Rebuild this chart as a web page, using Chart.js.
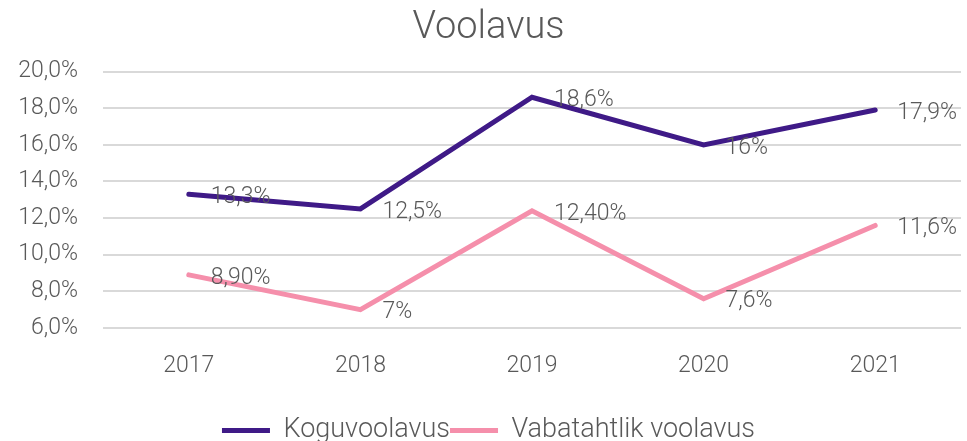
<!DOCTYPE html>
<html>
<head>
<meta charset="utf-8">
<script src="https://cdn.jsdelivr.net/npm/chart.js@4"></script>
<style>
  html, body { margin: 0; padding: 0; background: #fff; }
  #wrap { width: 967px; height: 441px; position: relative; }
</style>
</head>
<body>
<div id="wrap"><canvas id="chart"></canvas></div>
<script>
const years = ["2017", "2018", "2019", "2020", "2021"];
const koguvoolavus = [13.3, 12.5, 18.6, 16.0, 17.9];
const vabatahtlik = [8.9, 7.0, 12.4, 7.6, 11.6];
// labels as shown on the chart (formats differ per point)
const koguLabels = ["13,3%", "12,5%", "18,6%", "16%", "17,9%"];
const vabaLabels = ["8,90%", "7%", "12,40%", "7,6%", "11,6%"];
const yTicks = [6, 8, 10, 12, 14, 16, 18, 20];

const textColor = "#595959";
const fontFamily = "Roboto, 'Open Sans', sans-serif";

const pointLabels = {
  id: "pointLabels",
  afterDatasetsDraw(chart) {
    const ctx = chart.ctx;
    ctx.save();
    ctx.font = "300 23px " + fontFamily;
    ctx.fillStyle = textColor;
    ctx.textAlign = "left";
    ctx.textBaseline = "middle";
    chart.data.datasets.forEach((ds, i) => {
      const meta = chart.getDatasetMeta(i);
      meta.data.forEach((pt, j) => {
        ctx.fillText(ds.pointText[j], pt.x + 22, pt.y + 3);
      });
    });
    ctx.restore();
  }
};

new Chart(document.getElementById("chart"), {
  type: "line",
  data: {
    labels: years,
    datasets: [
      {
        label: "Koguvoolavus",
        data: koguvoolavus,
        pointText: koguLabels,
        borderColor: "#3f1a87",
        backgroundColor: "#3f1a87",
        borderWidth: 5,
        pointRadius: 0,
        borderCapStyle: "round",
        tension: 0
      },
      {
        label: "Vabatahtlik voolavus",
        data: vabatahtlik,
        pointText: vabaLabels,
        borderColor: "#f58fab",
        backgroundColor: "#f58fab",
        borderWidth: 5,
        pointRadius: 0,
        borderCapStyle: "round",
        tension: 0
      }
    ]
  },
  options: {
    responsive: true,
    maintainAspectRatio: false,
    animation: false,
    layout: { padding: { left: 16, right: 6, top: 4, bottom: -13 } },
    plugins: {
      title: {
        display: true,
        text: "Voolavus",
        color: textColor,
        font: { family: fontFamily, size: 38, weight: "300" },
        padding: { top: 2, bottom: 20 }
      },
      legend: {
        position: "bottom",
        labels: {
          color: textColor,
          font: { family: fontFamily, size: 27, weight: "300" },
          usePointStyle: true,
          pointStyle: "line",
          pointStyleWidth: 48,
          padding: 0
        }
      },
      tooltip: { enabled: false }
    },
    scales: {
      x: {
        offset: true,
        grid: { display: false },
        border: { display: false },
        afterFit: (axis) => { axis.height = 89; },
        ticks: {
          color: textColor,
          font: { family: fontFamily, size: 23, weight: "300" },
          padding: 16
        }
      },
      y: {
        min: 6,
        max: 20,
        afterBuildTicks: (axis) => { axis.ticks = yTicks.map(v => ({ value: v })); },
        afterFit: (axis) => { axis.width = 87; },
        grid: { color: "#d9d9d9", lineWidth: 2, drawTicks: false },
        border: { display: false },
        ticks: {
          color: textColor,
          font: { family: fontFamily, size: 23, weight: "300" },
          padding: 25,
          callback: (v) => v.toFixed(1).replace(".", ",") + "%"
        }
      }
    }
  },
  plugins: [pointLabels]
});
</script>
</body>
</html>
